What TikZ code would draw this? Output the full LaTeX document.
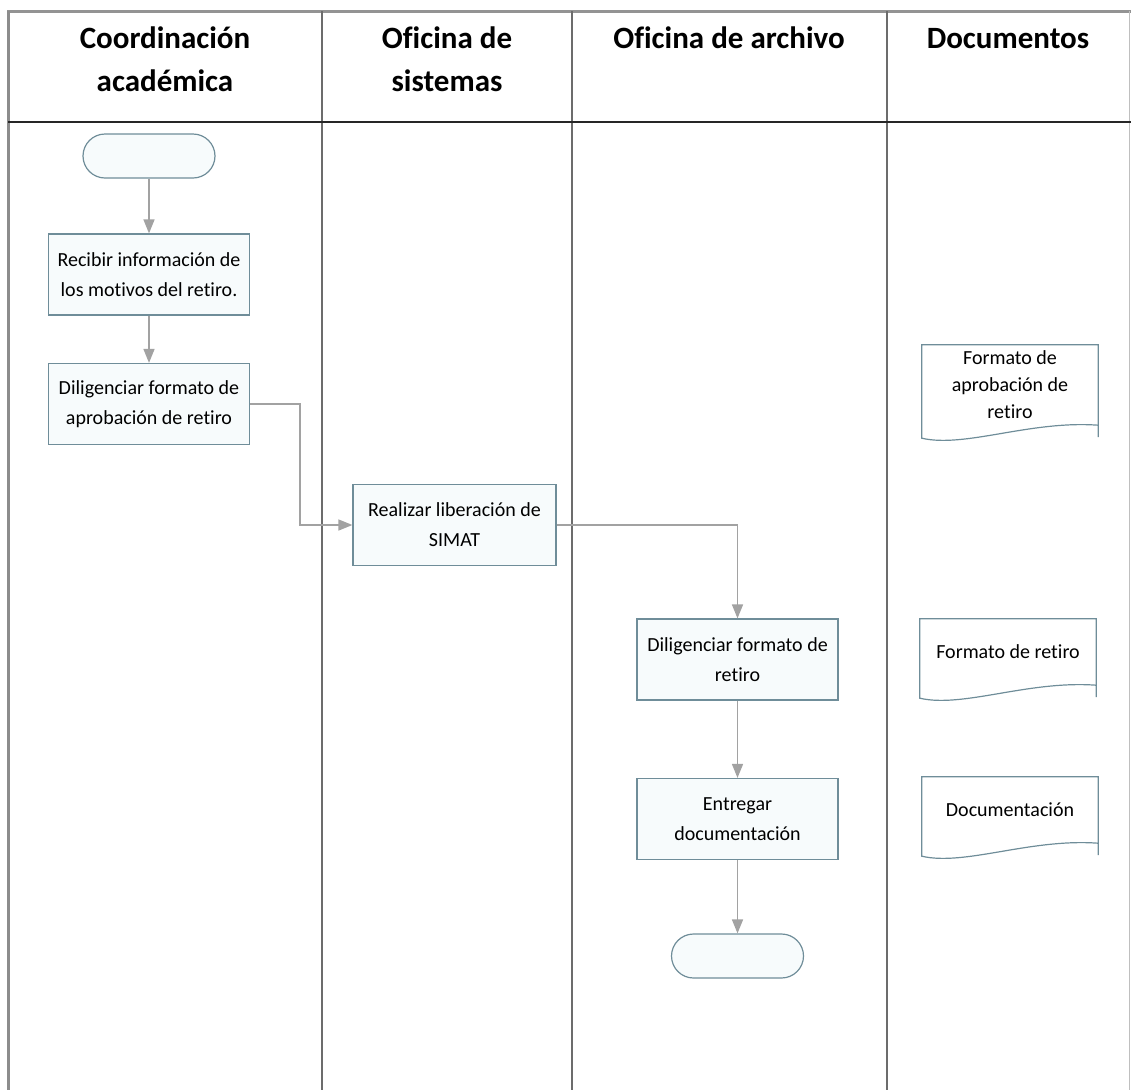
\documentclass[tikz,border=0pt]{standalone}
\usepackage{fontspec}
\setmainfont{Carlito}[Ligatures=NoCommon]
\usetikzlibrary{shapes, arrows.meta, positioning}
\definecolor{borde}{HTML}{6F8D99}
\definecolor{relleno}{HTML}{F7FBFC}
\definecolor{conector}{HTML}{A2A2A2}
\definecolor{carril}{HTML}{6C6C6C}

\tikzset{
	proceso/.style={draw=borde, fill=relleno, line width=1.2pt, minimum width=201pt, minimum height=81pt, inner sep=0pt, align=center, font=\fontsize{20}{30}\selectfont},
	terminal/.style={draw=borde, fill=relleno, line width=1.2pt, rounded corners=22pt, minimum width=132pt, minimum height=44pt, inner sep=0pt},
	documento/.style={minimum width=176pt, inner sep=0pt, align=center, font=\fontsize{20}{27}\selectfont},
	titulo/.style={anchor=north, inner sep=0pt, align=center, font=\bfseries\fontsize{31}{43}\selectfont},
	flecha/.style={color=conector, line width=1.5pt, -{Triangle[length=14pt, width=11pt]}},
}

\begin{document}
\begin{tikzpicture}[x=1pt, y=-1pt, node distance=120pt, on grid]
		\useasboundingbox (0,0) rectangle (1131,1090);
		\draw[color=gray!85, line width=3pt] (7,11) -- (1131,11);
		\draw[color=gray!90, line width=3pt] (8,11) -- (8,1090);
		\draw[color=gray!50, line width=1pt] (1129,11) -- (1129,1090);
		\foreach \x in {322, 572, 887}
			\draw[color=carril, line width=2.5pt] (\x,11) -- (\x,1090);
		\draw[color=black!85, line width=2pt] (8,122) -- (1131,122);

		\node[titulo] (t1) at (165,27) {Coordinación\\académica};
		\node[titulo] (t2) at (447,27) {Oficina de\\sistemas};
		\node[titulo] (t3) at (729,27) {Oficina de archivo};
		\node[titulo] (t4) at (1008,28) {Documentos};

		\node[terminal] (ini) at (149,156) {};
		\node[proceso] (rec) [below=118.5pt of ini] {Recibir información de\\los motivos del retiro.};
		\node[proceso] (dil) [below=129.5pt of rec] {Diligenciar formato de\\aprobación de retiro};
		\node[proceso, minimum width=203pt] (lib) at (454.5,525) {Realizar liberación de\\SIMAT};
		\node[proceso] (fmt) at (737.5,659.5) {Diligenciar formato de\\retiro};
		\node[proceso] (ent) [below=159.5pt of fmt] {Entregar\\documentación};
		\node[terminal] (fin) [below=137pt of ent] {};

		\node[documento, minimum height=80pt] (d1) at (1010,385) {Formato de\\aprobación de\\retiro};
		\node[documento, minimum height=66pt] (d2) at (1008,652) {Formato de retiro};
		\node[documento, minimum height=66pt] (d3) at (1010,810) {Documentación};
		\foreach \d in {d1, d2, d3}
			\draw[draw=borde, line width=1.2pt] ([yshift=-12pt]\d.south east) -- (\d.north east) -- (\d.north west) -- ([yshift=-13pt]\d.south west)
				.. controls +(43,10) and +(-68,-5) .. (\d.south east);

		\draw[flecha] (ini) -- (rec);
		\draw[flecha] (rec) -- (dil);
		\draw[flecha] (dil.east) -- ++(50,0) |- (lib);
		\draw[flecha] (lib) -| (fmt);
		\draw[flecha] (fmt) -- (ent);
		\draw[flecha] (ent) -- (fin);
\end{tikzpicture}
\end{document}
